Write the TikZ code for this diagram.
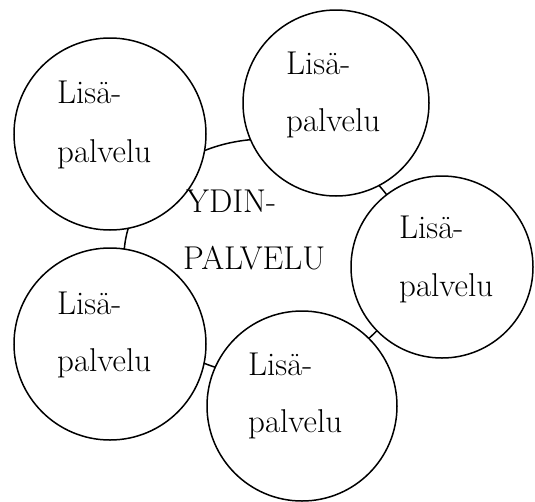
\documentclass[tikz,border=0pt]{standalone}
\usetikzlibrary{shapes.geometric}
\begin{document}
\begin{tikzpicture}[x=1pt,y=-1pt,
  ring/.style={circle, draw=black, fill=white, line width=1.5pt, minimum size=#1, inner sep=0pt},
  core/.style={ellipse, draw=black, line width=1.5pt, minimum width=284pt, minimum height=236pt, inner sep=0pt},
  lbl/.style={anchor=base west, font=\fontsize{33}{40}\selectfont, inner sep=0pt}]
\useasboundingbox (0,0) rectangle (535,501);
\node[core] (core) at (266,257) {};
\node[ring=192pt] (c1) at (110,134) {};
\node[ring=186pt] (c2) at (336,103) {};
\node[ring=182pt] (c3) at (442,267) {};
\node[ring=190pt] (c4) at (302,406) {};
\node[ring=192pt] (c5) at (110,344) {};
% texts
\node[lbl] (t1a) at (57,103) {Lisä-};
\node[lbl] (t1b) at (57,162) {palvelu};
\node[lbl] (t2a) at (286,74) {Lisä-};
\node[lbl] (t2b) at (286,131) {palvelu};
\node[lbl] (t3a) at (399,238) {Lisä-};
\node[lbl] (t3b) at (399,296) {palvelu};
\node[lbl] (t4a) at (248,375) {Lisä-};
\node[lbl] (t4b) at (248,432) {palvelu};
\node[lbl] (t5a) at (57,314) {Lisä-};
\node[lbl] (t5b) at (57,371) {palvelu};
\node[lbl] (k1) at (186,212) {YDIN-};
\node[lbl] (k2) at (183,269) {PALVELU};
\end{tikzpicture}
\end{document}
